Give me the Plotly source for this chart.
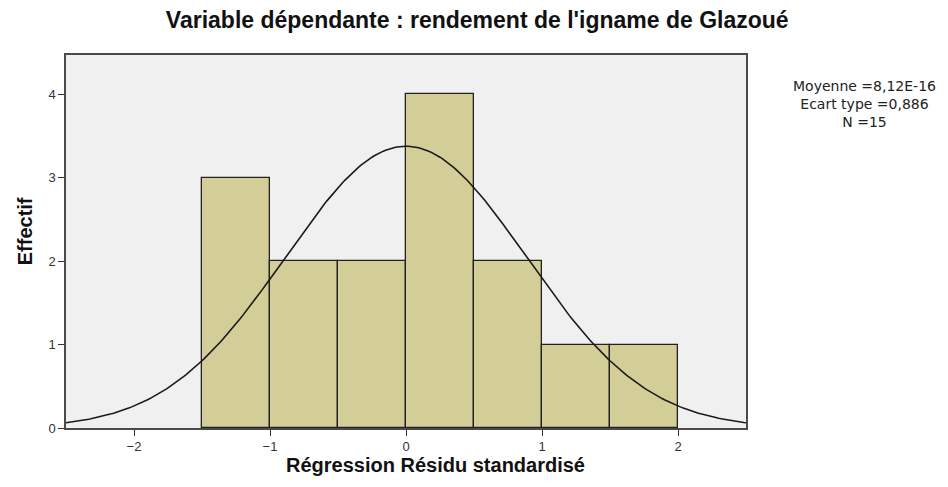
import numpy as np
import plotly.graph_objects as go

# histogram bins (left edges) and counts
bin_starts = [-1.5, -1.0, -0.5, 0.0, 0.5, 1.0, 1.5]
bin_width = 0.5
counts = [3, 2, 2, 4, 2, 1, 1]

# summary statistics shown in the chart
mean = 8.12e-16
std = 0.886
n = 15

x_ticks = [-2, -1, 0, 1, 2]
y_ticks = [0, 1, 2, 3, 4]

bar_color = '#d3ce97'
bg_color = '#f0f0f0'

centers = [b + bin_width / 2 for b in bin_starts]

# normal curve fitted from the stats above (scaled to counts)
curve_x = np.linspace(-2.5, 2.5, 301)
curve_y = n * bin_width / (std * np.sqrt(2 * np.pi)) * np.exp(-0.5 * ((curve_x - mean) / std) ** 2)

fig = go.Figure()

fig.add_trace(
    go.Bar(
        x=centers,
        y=counts,
        width=bin_width,
        marker=dict(color=bar_color, line=dict(color='#222222', width=1.3)),
        showlegend=False,
        hoverinfo='skip'
    )
)

fig.add_trace(
    go.Scatter(
        x=curve_x,
        y=curve_y,
        mode='lines',
        line=dict(color='#1a1a1a', width=1.6),
        showlegend=False,
        hoverinfo='skip'
    )
)

stats_text = (
    f"Moyenne ={str(mean).replace('.', ',').replace('e', 'E')}<br>"
    f"Ecart type ={str(std).replace('.', ',')}<br>"
    f"N ={n}"
)

axis_style = dict(
    ticks='outside',
    ticklen=6,
    tickcolor='#333333',
    tickfont=dict(size=13, color='#333333'),
    showgrid=False,
    zeroline=False,
    showline=True,
    linecolor='#4a4a4a',
    linewidth=1.5,
    mirror=True,
    automargin=False
)

fig.update_layout(
    width=948,
    height=487,
    # page has an 8px body margin, so margins are shifted by that
    margin=dict(l=58, r=210, t=47, b=67),
    paper_bgcolor='white',
    plot_bgcolor=bg_color,
    bargap=0,
    font=dict(family='Liberation Sans, Arial, sans-serif', color='#333333', size=12),
    title=dict(
        text="<b>Variable dépendante : rendement de l'igname de Glazoué</b>",
        x=0.495,
        xanchor='center',
        y=0.975,
        yanchor='middle',
        font=dict(size=23, color='#111111')
    ),
    xaxis=dict(range=[-2.5, 2.5], tickvals=x_ticks, **axis_style),
    yaxis=dict(range=[0, 4.47], tickvals=y_ticks, **axis_style),
    annotations=[
        dict(
            text='<b>Régression Résidu standardisé</b>',
            xref='paper', yref='paper',
            x=0.543, y=-0.099,
            xanchor='center', yanchor='middle',
            showarrow=False,
            font=dict(size=20, color='#111111')
        ),
        dict(
            text='<b>Effectif</b>',
            xref='paper', yref='paper',
            x=-0.06, y=0.528,
            xanchor='center', yanchor='middle',
            textangle=-90,
            showarrow=False,
            font=dict(size=20, color='#111111')
        ),
        dict(
            text=stats_text,
            xref='paper', yref='paper',
            x=1.174, y=0.945,
            xanchor='center', yanchor='top',
            showarrow=False,
            align='center',
            font=dict(family='DejaVu Sans, sans-serif', size=14, color='#222222')
        )
    ]
)

fig.write_html("out.html")
